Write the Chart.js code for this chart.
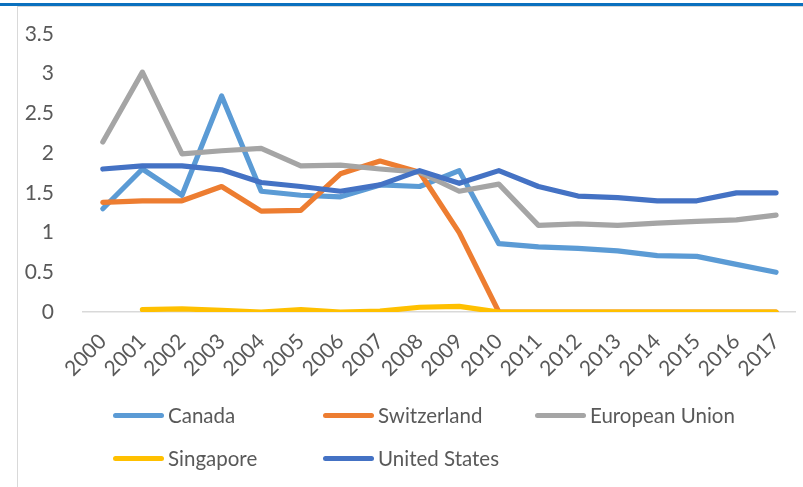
<!DOCTYPE html>
<html>
<head>
<meta charset="utf-8">
<script src="https://cdn.jsdelivr.net/npm/chart.js@4/dist/chart.umd.min.js"></script>
<style>
  html, body { margin: 0; padding: 0; background: #fff; }
  #wrap { position: relative; width: 803px; height: 487px; overflow: hidden; font-family: Lato, sans-serif; }
  #topbar { position: absolute; left: 0; top: 3px; width: 803px; height: 3px; background: #0a70be; }
  #topline { position: absolute; left: 17px; top: 6px; width: 786px; height: 1px; background: #d6d6d6; }
  #leftline { position: absolute; left: 17px; top: 7px; width: 1px; height: 480px; background: #d9d9d9; }
  #chart { position: absolute; left: 0; top: 0; }
  .item { position: absolute; height: 24px; display: flex; align-items: center; color: #595959; font-size: 20.5px; white-space: nowrap; }
  .item .swatch { width: 51px; height: 5px; border-radius: 3px; margin-right: 4px; }
</style>
</head>
<body>
<div id="wrap">
  <canvas id="chart" width="803" height="487"></canvas>
  <div id="topbar"></div>
  <div id="topline"></div>
  <div id="leftline"></div>
  <div id="legend"></div>
</div>
<script>
const years = ['2000', '2001', '2002', '2003', '2004', '2005', '2006', '2007', '2008',
  '2009', '2010', '2011', '2012', '2013', '2014', '2015', '2016', '2017'];

const canada = [1.30, 1.80, 1.47, 2.72, 1.52, 1.47, 1.45, 1.60, 1.58,
  1.78, 0.86, 0.82, 0.80, 0.77, 0.71, 0.70, 0.60, 0.50];
const switzerland = [1.38, 1.40, 1.40, 1.58, 1.27, 1.28, 1.74, 1.90, 1.76,
  1.00, 0, 0, 0, 0, 0, 0, 0, 0];
const europeanUnion = [2.14, 3.02, 1.99, 2.03, 2.06, 1.84, 1.85, 1.80, 1.76,
  1.52, 1.61, 1.09, 1.11, 1.09, 1.12, 1.14, 1.16, 1.22];
const singapore = [null, 0.03, 0.04, 0.02, 0.0, 0.03, 0.0, 0.01, 0.06,
  0.07, 0, 0, 0, 0, 0, 0, 0, 0];
const unitedStates = [1.80, 1.84, 1.84, 1.79, 1.63, 1.58, 1.52, 1.60, 1.78,
  1.62, 1.78, 1.58, 1.46, 1.44, 1.40, 1.40, 1.50, 1.50];

const yTicks = [0, 0.5, 1, 1.5, 2, 2.5, 3, 3.5];

const series = [
  { label: 'Canada', data: canada, color: '#5b9bd5' },
  { label: 'Switzerland', data: switzerland, color: '#ed7d31' },
  { label: 'European Union', data: europeanUnion, color: '#a5a5a5' },
  { label: 'Singapore', data: singapore, color: '#ffc000' },
  { label: 'United States', data: unitedStates, color: '#4472c4' },
];

const tickFont = { family: 'Lato', size: 21 };

new Chart(document.getElementById('chart'), {
  type: 'line',
  data: {
    labels: years,
    datasets: series.map((s, i) => ({
      label: s.label,
      data: s.data,
      borderColor: s.color,
      backgroundColor: s.color,
      borderWidth: 5.2,
      pointRadius: 0,
      borderCapStyle: 'round',
      borderJoinStyle: 'round',
      tension: 0,
      order: series.length - 1 - i,
    })),
  },
  options: {
    responsive: false,
    animation: false,
    layout: { padding: { top: 34, right: 5, bottom: 95, left: 0 } },
    plugins: { legend: { display: false }, tooltip: { enabled: false } },
    scales: {
      x: {
        offset: true,
        grid: { display: false },
        border: { display: true, color: '#d9d9d9', width: 1.5 },
        ticks: { color: '#595959', font: tickFont, minRotation: 45, maxRotation: 45, padding: 9, autoSkip: false },
        afterFit: s => { s.height = 80; },
      },
      y: {
        min: 0,
        max: 3.5,
        afterBuildTicks: s => { s.ticks = yTicks.map(v => ({ value: v })); },
        grid: { display: false },
        border: { display: false },
        ticks: { color: '#595959', font: tickFont, padding: 21, callback: v => String(v) },
        afterFit: s => { s.width = 83; },
      },
    },
  },
});

// legend laid out as two rows of fixed columns, like the original
const legendPos = [[113, 403], [323, 403], [535, 403], [113, 446], [323, 446]];
const legendEl = document.getElementById('legend');
series.forEach((s, i) => {
  const item = document.createElement('div');
  item.className = 'item';
  item.style.left = legendPos[i][0] + 'px';
  item.style.top = legendPos[i][1] + 'px';
  const sw = document.createElement('span');
  sw.className = 'swatch';
  sw.style.background = s.color;
  const txt = document.createElement('span');
  txt.textContent = s.label;
  item.appendChild(sw);
  item.appendChild(txt);
  legendEl.appendChild(item);
});
</script>
</body>
</html>
